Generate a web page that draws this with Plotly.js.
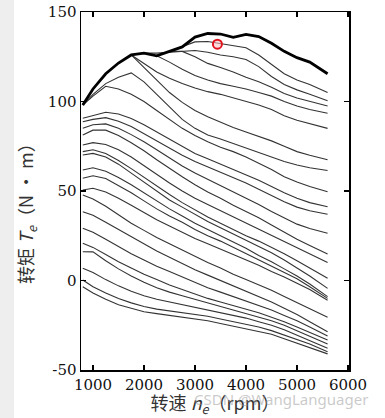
<!DOCTYPE html>
<html>
<head>
<meta charset="utf-8">
<script src="https://cdn.plot.ly/plotly-3.0.1.min.js"></script>
<style>html,body{margin:0;padding:0;background:#fff;}#chart{width:385px;height:418px;}</style>
</head>
<body>
<div id="chart"></div>
<script>
// engine speed grid (rpm)
var rpm = [800,1000,1250,1500,1750,2000,2250,2500,2750,3000,3250,3500,3750,4000,4250,4500,4750,5000,5250,5600];
var n = null;
// full-load envelope (thick)
var envelope = [98,107,115.5,121.5,126,127,125.5,128,130.5,136,138,137.7,135.8,137.5,136.3,132.5,128,124.5,122,115.5];
// part-load torque curves
var c1  = [n,n,n,n,n,n,n,128,130.5,133.3,133.5,132.3,131.5,130,126,120.5,115.5,112,109.5,105];
var c2  = [n,n,n,n,126,127,127,127.5,128,128.5,127.5,126,125,123.5,119.5,114,109.5,106.5,104,100.4];
var c3  = [n,n,n,n,n,n,n,128,128,125,121.3,119,116.5,113.5,111,108,104.5,102,100,97.5];
var c4  = [n,n,n,n,n,n,125.5,122,118,114.5,112,110,108.5,107,105,103,100,97.5,95.5,93.4];
var c5  = [n,n,n,n,126,121,116.5,113,110,107.5,105.5,104,102,100,98,95.5,92,89.5,87.5,85];
var c6  = [n,n,n,n,126,119,111.5,105,99.5,95,91.5,88.5,85.5,83,80.5,78,75,72,70,67.5];
var c7  = [98,104,110,113.5,116,111,104,97,90,85,81.3,79,76.5,74,71.5,69,66.5,64.5,63,61.5];
var c8  = [98,103,108.5,107,104,100,95,90,85,81,77.5,74.5,72,69,65.5,62,58,55,52.5,49.6];
var c9  = [90.6,92,94,93,90.5,87,83,79,75,71,68,65,62,59,56,52.5,49,46,43.5,41.2];
var c10 = [88.7,90,91,89,86,82,78,74,70,66.5,63.5,60.5,57.5,54.5,51,47.5,44,41,39,37];
var c11 = [85,87,87.5,85,81.5,77.5,73,68.5,64,60,56.5,53,49.5,46,42.5,38.5,35,31.5,29,26.4];
var c12 = [81.3,84,84,81,77,72.5,67.5,62.5,58,53.5,49.5,46,42,38.5,35,31,27,23,19.5,14.8];
var c13 = [75.7,77,76,73,69,64,59,54.5,50,46,42.5,39,35.5,32,28.5,25,21.5,18,14.5,10];
var c14 = [72,73,71,67,62.5,57.5,52.5,48,43.5,39.5,35.5,32,28.5,25,22,18.5,15,11,7,1.2];
var c15 = [70.1,71,69,65,60,55,50,45,41,37,33,29.5,26,22.5,19,15.5,11.5,7,2.5,-4.4];
var c16 = [61.7,63,61,57.5,53.5,49,44.5,40,36,32,28.5,25,21.5,18,14,10.5,6.5,2.5,-2,-9];
var c17 = [57.1,58.5,57,53,49,44.5,40,36,32.5,28.5,25,22,18.5,15,11.5,8,4.5,1,-3.5,-10];
var c18 = [50.6,51.5,49.5,46,42,38,34,30.5,27,23.5,20.5,17.5,14.5,11.5,8.5,5,2,-1.5,-5,-11];
var c19 = [47.8,45.5,41.5,36.5,32,28,24,20.5,17,13.5,10,7,3.5,0.5,-2.5,-5.5,-9,-12.5,-16,-20.6];
var c20 = [38.4,36.5,32.5,28.5,24.5,20.5,16.5,13,9.5,6,3,0,-3,-6,-9,-12,-15.5,-19,-23,-28.6];
var c21 = [29.2,27,23,19,15,11.5,8,5,2,-1,-4,-6.5,-9,-11.5,-14,-16.5,-19.5,-22.5,-26,-31];
var c22 = [20.8,18.5,14.5,10.5,7,3.5,0.5,-2.5,-5,-7.5,-10,-12,-14,-16,-18,-20.5,-23,-26,-29,-33.2];
var c23 = [16.1,16,11,6.5,2.5,-1,-4,-6.5,-8.5,-10.5,-12.5,-14.5,-16.5,-18.5,-20.5,-22.5,-25,-28,-31,-35.5];
var c24 = [6.8,4.5,0.5,-3,-6,-8.5,-10.5,-12,-13.5,-15,-16.5,-18,-19.5,-21,-23,-25,-27.5,-30.5,-33.5,-37.9];
var c25 = [0.3,-3.5,-7,-10,-12.5,-14.5,-16,-17,-18,-19,-20,-21.5,-23,-24.5,-26,-28,-30.5,-33,-35.5,-39.8];
var c26 = [-3.5,-7,-10.5,-13.5,-15.5,-17.5,-18.5,-19.5,-20.5,-21.5,-22.5,-24,-25.5,-27,-28.5,-30,-32.5,-35,-37.5,-41];
// operating point (red ring)
var opRpm = [3440];
var opTorque = [132];

var curves = [c1,c2,c3,c4,c5,c6,c7,c8,c9,c10,c11,c12,c13,c14,c15,c16,c17,c18,c19,c20,c21,c22,c23,c24,c25,c26];
var traces = curves.map(function(c){
  return {x: rpm, y: c, type:'scatter', mode:'lines', connectgaps:false,
          line:{color:'#333', width:1.1}, hoverinfo:'skip', showlegend:false};
});
traces.push({x: rpm, y: envelope, type:'scatter', mode:'lines',
  line:{color:'#000', width:2.8}, showlegend:false});
traces.push({x: opRpm, y: opTorque, type:'scatter', mode:'markers',
  marker:{symbol:'circle', size:9, color:'rgba(255,190,190,0.55)', line:{color:'#e0141e', width:2}}, showlegend:false});

var tickFont = {family:'"DejaVu Serif", "Liberation Serif", serif', size:15, color:'#111'};
var titleFont = {family:'"Noto Sans CJK SC", "DejaVu Serif", serif', size:18, color:'#333'};
var layout = {
  width:385, height:418,
  margin:{l:81, r:36, t:12, b:48},
  paper_bgcolor:'#fff', plot_bgcolor:'#fff',
  xaxis:{range:[765,6020], tickvals:[1000,2000,3000,4000,5000,6000], ticktext:['1000','2000','3000','4000','5000','6000'],
    ticks:'inside', ticklen:5, tickwidth:1.2, tickcolor:'#000', mirror:'ticks', showline:true, linecolor:'#000', linewidth:1.5,
    showgrid:false, zeroline:false, tickfont:tickFont,
    title:{text:'转速 <i>n<sub>e</sub></i>（rpm）', font:titleFont, standoff:1}},
  yaxis:{range:[-50,150], tickvals:[-50,0,50,100,150], ticktext:['-50','0','50','100','150'],
    ticks:'inside', ticklen:5, tickwidth:1.2, tickcolor:'#000', mirror:'ticks', showline:true, linecolor:'#000', linewidth:1.5,
    showgrid:false, zeroline:false, tickfont:tickFont},
  shapes:[
    {type:'rect', xref:'paper', yref:'paper', x0:-0.3022, x1:-0.25, y0:-0.135, y1:1.034, fillcolor:'#eeeeee', line:{width:0}, layer:'below'}
  ],
  annotations:[
    {text:'转矩 <i>T<sub>e</sub></i>（N • m）', xref:'paper', yref:'paper', x:-0.2015, y:0.45, xanchor:'center', yanchor:'middle', textangle:-90, showarrow:false,
     font:titleFont},
    {text:'CSDN @WangLanguager', xref:'paper', yref:'paper', x:1.078, y:-0.082, xanchor:'right', yanchor:'middle', showarrow:false,
     font:{family:'"Noto Sans", sans-serif', size:15, color:'rgba(150,150,150,0.5)'}}
  ]
};
Plotly.newPlot('chart', traces, layout, {staticPlot:true, displayModeBar:false});
</script>
</body>
</html>
